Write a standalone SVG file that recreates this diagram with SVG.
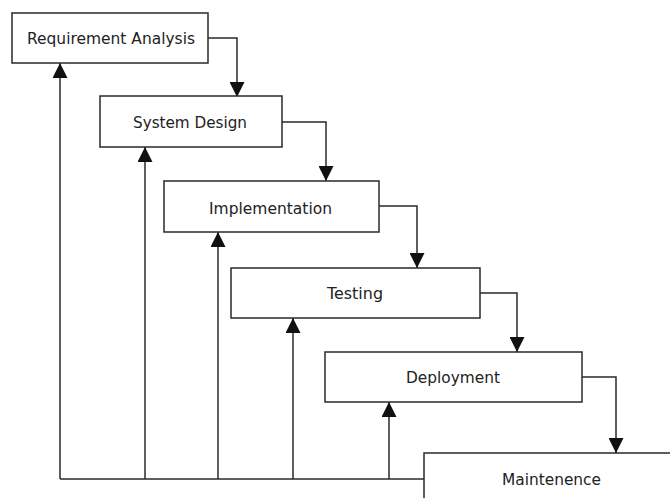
<svg xmlns="http://www.w3.org/2000/svg" width="670" height="498" viewBox="0 0 670 498">
<style>
.box{fill:#fff;stroke:#2a2a2a;stroke-width:1.5}
.lbl{font-family:"DejaVu Sans",Verdana,sans-serif;font-size:15px;fill:#222;text-anchor:middle}
.con{fill:none;stroke:#2a2a2a;stroke-width:1.5}
</style>
<defs>
<marker id="ah" markerUnits="userSpaceOnUse" markerWidth="15" markerHeight="15" refX="15" refY="7.5" orient="auto">
<path d="M0,0 L15,7.5 L0,15 z" fill="#111"/>
</marker>
</defs>
<rect width="670" height="498" fill="#fff"/>
<g id="connectors">
<path class="con" d="M208,38 H237 V97" marker-end="url(#ah)"/>
<path class="con" d="M282,122 H326 V181" marker-end="url(#ah)"/>
<path class="con" d="M379,206 H417 V268" marker-end="url(#ah)"/>
<path class="con" d="M480,293 H517 V352" marker-end="url(#ah)"/>
<path class="con" d="M582,377 H616 V453" marker-end="url(#ah)"/>
<path class="con" d="M424,479 H60"/>
<path class="con" d="M60,479 V63" marker-end="url(#ah)"/>
<path class="con" d="M145,479 V147" marker-end="url(#ah)"/>
<path class="con" d="M218,479 V232" marker-end="url(#ah)"/>
<path class="con" d="M293,479 V318" marker-end="url(#ah)"/>
<path class="con" d="M389,479 V402" marker-end="url(#ah)"/>
</g>
<g id="requirement-analysis">
<rect class="box" x="12" y="13" width="196" height="50"/>
<text class="lbl" x="111" y="44" textLength="168" lengthAdjust="spacingAndGlyphs">Requirement Analysis</text>
</g>
<g id="system-design">
<rect class="box" x="100" y="96" width="182" height="51"/>
<text class="lbl" x="190" y="128" textLength="114" lengthAdjust="spacingAndGlyphs">System Design</text>
</g>
<g id="implementation">
<rect class="box" x="164" y="181" width="215" height="51"/>
<text class="lbl" x="270.5" y="214" textLength="123" lengthAdjust="spacingAndGlyphs">Implementation</text>
</g>
<g id="testing">
<rect class="box" x="231" y="268" width="249" height="50"/>
<text class="lbl" x="355" y="299" textLength="56" lengthAdjust="spacingAndGlyphs">Testing</text>
</g>
<g id="deployment">
<rect class="box" x="325" y="352" width="257" height="50"/>
<text class="lbl" x="453" y="383" textLength="94" lengthAdjust="spacingAndGlyphs">Deployment</text>
</g>
<g id="maintenence">
<rect class="box" x="424" y="453" width="260" height="60"/>
<text class="lbl" x="551.5" y="485" textLength="99" lengthAdjust="spacingAndGlyphs">Maintenence</text>
</g>
</svg>
